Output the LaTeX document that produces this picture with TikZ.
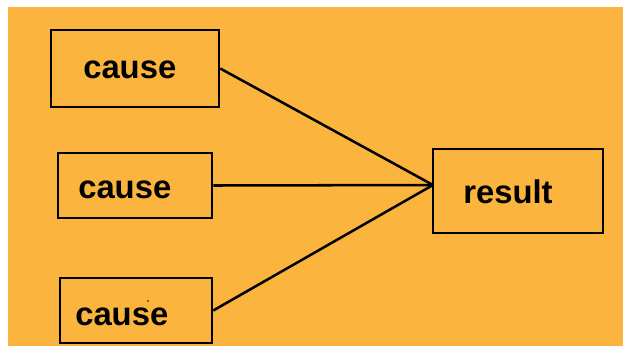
\documentclass[tikz,border=0pt]{standalone}
\usepackage{fontspec}
\setmainfont{Liberation Sans}
\definecolor{causebg}{RGB}{251,180,61}

\begin{document}
\begin{tikzpicture}[x = 0.75pt, y = -0.75pt, line width = 1.9pt,
        box/.style = {draw, rectangle, inner sep = 0pt},
        word/.style = {anchor = base west, inner sep = 0pt,
            font = \bfseries\fontsize{24.6}{28}\selectfont}]
        \useasboundingbox (0,0) rectangle (629,347);
        \fill[causebg] (8,7) rectangle (623,346);
        
        % the boxes
        \node[box, minimum width = 126pt, minimum height = 57.75pt] (c1) at (135,68.5) {};
        \node[box, minimum width = 115.5pt, minimum height = 48.75pt] (c2) at (135,185.5) {};
        \node[box, minimum width = 114pt, minimum height = 48.75pt] (c3) at (136,310.5) {};
        \node[box, minimum width = 127.5pt, minimum height = 63pt] (res) at (518,191) {};
        
        \node[word] (c1text) at (82,78) {cause};
        \node[word] (c2text) at (77,198) {cause};
        \node[word] (c3text) at (74,325) {cause};
        \node[word] (restext) at (462,203) {result};
        
        \coordinate (hub) at (433,185);
        
        \draw (c1.east) -- (hub);
        \draw (c2.east) -- (hub);
        \draw (c3.east) -- (hub);
        
        \fill (148,301) circle (0.7pt);
    \end{tikzpicture}
\end{document}
